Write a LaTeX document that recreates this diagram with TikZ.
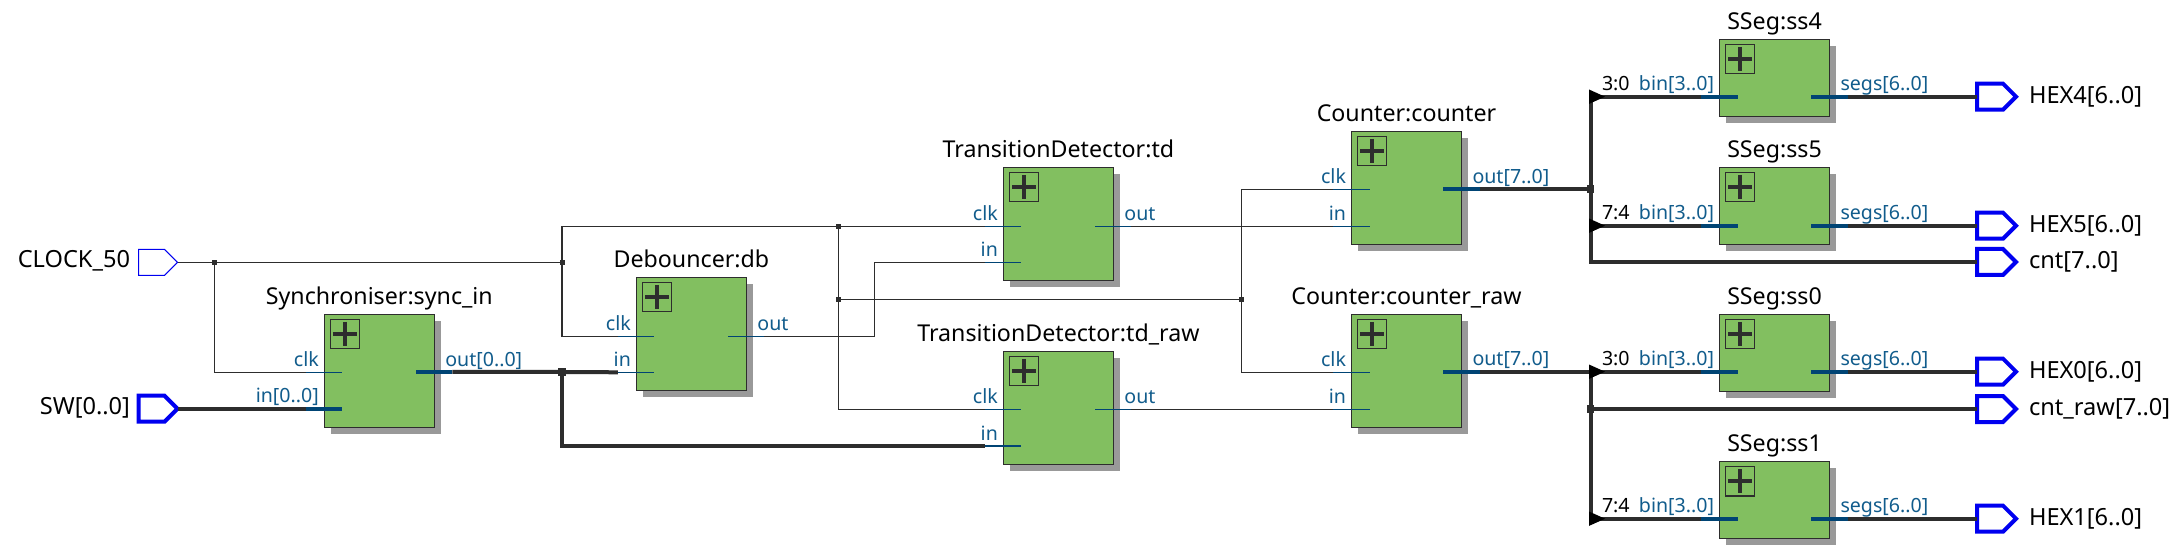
\documentclass[tikz,border=0pt]{standalone}
\usepackage{fontspec}
\setmainfont{Noto Sans}
\usetikzlibrary{shapes.symbols}
\definecolor{wirecol}{HTML}{2D2D2D}
\definecolor{stubcol}{HTML}{004474}
\definecolor{labelcol}{HTML}{115C8C}
\definecolor{greenbody}{HTML}{82BF60}
\definecolor{shadowcol}{HTML}{999999}
\definecolor{pincol}{HTML}{0000F0}
\tikzset{
  x=0.5pt,y=-0.5pt,
  wire/.style={draw=wirecol,line width=0.75pt},
  bus/.style={draw=wirecol,line width=2pt},
  thinstub/.style={draw=stubcol,line width=0.75pt},
  busstub/.style={draw=stubcol,line width=2pt},
  blockbody/.style={rectangle,draw=wirecol,fill=greenbody,line width=0.7pt,minimum width=55pt,inner sep=0pt,outer sep=0pt},
  plusbox/.style={rectangle,draw=wirecol,line width=0.6pt,minimum width=14.6pt,minimum height=14.6pt,inner sep=0pt,outer sep=0pt},
  plusmark/.style={draw=wirecol,line width=2pt},
  titletext/.style={anchor=base,inner sep=0pt,outer sep=0pt,text=black,font=\fontsize{11.6pt}{13pt}\selectfont},
  pintext/.style={inner sep=0pt,outer sep=0pt,text=black,font=\fontsize{11.8pt}{13pt}\selectfont},
  portlabel/.style={inner sep=0pt,outer sep=0pt,text=labelcol,font=\fontsize{9.8pt}{11pt}\selectfont},
  slicelabel/.style={inner sep=0pt,outer sep=0pt,text=black,font=\fontsize{9.8pt}{11pt}\selectfont,anchor=base west},
  jthin/.style={rectangle,fill=wirecol,minimum size=2.6pt,inner sep=0pt,outer sep=0pt},
  jbus/.style={rectangle,fill=wirecol,minimum size=3.8pt,inner sep=0pt,outer sep=0pt},
  pinbase/.style={signal,signal to=east,signal from=nowhere,signal pointer angle=90,minimum width=19.5pt,minimum height=13pt,inner sep=0pt,outer sep=0pt,anchor=west,draw=pincol},
  pinthin/.style={pinbase,line width=0.5pt},
  pinbus/.style={pinbase,line width=2pt},
}
\newcommand\modbox[5]{%
  \fill[shadowcol] (#2+6.5,#3+6.5) rectangle ++(110,#4);
  \node[blockbody,minimum height=#4*0.5pt,anchor=north west] (#1) at (#2,#3) {};
  \node[plusbox,anchor=north west] (#1-plus) at (#2+6,#3+5) {};
  \draw[plusmark] (#1-plus.center) ++(-12,0) -- ++(24,0);
  \draw[plusmark] (#1-plus.center) ++(0,-12) -- ++(0,24);
  \node[titletext] (#1-title) at (#2+55,#3-10) {#5};
}
\newcommand\lport[5]{%
  \coordinate (#1) at (#2-18.5,#3);
  \coordinate (#1-end) at (#2+18,#3);
  \draw[#5] (#1) -- (#1-end);
  \node[portlabel,anchor=base east] (#1-lab) at (#2-5.5,#3-5.8) {#4};
}
\newcommand\rport[5]{%
  \coordinate (#1) at (#2+18,#3);
  \coordinate (#1-end) at (#2-18.5,#3);
  \draw[#5] (#1) -- (#1-end);
  \node[portlabel,anchor=base west] (#1-lab) at (#2+11,#3-5.8) {#4};
}
\newcommand\sseg[4]{% name, top, line y, title
  \modbox{#1}{1719.5}{#2}{77}{#4}
  \lport{#1-bin}{1719.5}{#3}{bin[3..0]}{busstub}
  \rport{#1-segs}{1829.5}{#3}{segs[6..0]}{busstub}
}
\newcommand\tapmark[1]{\fill[black] (#1) ++(-1.5,-7.2) -- ++(16,7.2) -- ++(-16,7.2) -- cycle;}
\begin{document}
\begin{tikzpicture}
\useasboundingbox[fill=white] (0,0) rectangle (2182,555);
% modules
\modbox{sync}{324.3}{314.3}{113}{Synchroniser:sync\_in}
\lport{sync-clk}{324.3}{372.3}{clk}{thinstub}
\lport{sync-in}{324.3}{408.7}{in[0..0]}{busstub}
\rport{sync-out}{434.3}{371.8}{out[0..0]}{busstub}
\modbox{db}{636.4}{277.3}{113}{Debouncer:db}
\lport{db-clk}{636.4}{336.3}{clk}{thinstub}
\lport{db-in}{636.4}{372.3}{in}{thinstub}
\rport{db-out}{746.4}{336.3}{out}{thinstub}
\modbox{td}{1003.4}{167.3}{113}{TransitionDetector:td}
\lport{td-clk}{1003.4}{226.3}{clk}{thinstub}
\lport{td-in}{1003.4}{262.3}{in}{thinstub}
\rport{td-out}{1113.4}{226.3}{out}{thinstub}
\modbox{tdr}{1003.4}{351.3}{113}{TransitionDetector:td\_raw}
\lport{tdr-clk}{1003.4}{409.3}{clk}{thinstub}
\lport{tdr-in}{1003.4}{446}{in}{thinstub}
\rport{tdr-out}{1113.4}{409.3}{out}{thinstub}
\modbox{ctr}{1351.5}{131.3}{113}{Counter:counter}
\lport{ctr-clk}{1351.5}{189.3}{clk}{thinstub}
\lport{ctr-in}{1351.5}{226.3}{in}{thinstub}
\rport{ctr-out}{1461.5}{189}{out[7..0]}{busstub}
\modbox{ctrr}{1351.5}{314.3}{113}{Counter:counter\_raw}
\lport{ctrr-clk}{1351.5}{372.3}{clk}{thinstub}
\lport{ctrr-in}{1351.5}{409.3}{in}{thinstub}
\rport{ctrr-out}{1461.5}{371.7}{out[7..0]}{busstub}
\sseg{ss4}{39.3}{96.7}{SSeg:ss4}
\sseg{ss5}{167.3}{225.7}{SSeg:ss5}
\sseg{ss0}{314.3}{371.7}{SSeg:ss0}
\sseg{ss1}{461.7}{518.7}{SSeg:ss1}
% pins
\node[pinthin] (pclk) at (138.5,262.4) {};
\node[pinbus] (psw) at (138.5,408.7) {};
\node[pintext,anchor=base east] (pclk-t) at (130,268) {CLOCK\_50};
\node[pintext,anchor=base east] (psw-t) at (130,415) {SW[0..0]};
\foreach \n/\y/\t in {hex4/96.7/HEX4[6..0],hex5/225.7/HEX5[6..0],cnt/262/{cnt[7..0]},hex0/371.7/HEX0[6..0],cntr/409/{cnt\_raw[7..0]},hex1/518.7/HEX1[6..0]}{
  \node[pinbus] (p\n) at (1977,\y) {};
  \node[pintext,anchor=base west] (p\n-t) at (2029,\y+6.5) {\t};
}
% junctions
\node[jthin] (ja) at (214.4,262.4) {};
\node[jthin] (jb) at (562.2,262.4) {};
\node[jthin] (jc) at (838.5,226.3) {};
\node[jthin] (jd) at (838.5,299.3) {};
\node[jthin] (je) at (1241.4,299.3) {};
\node[jbus] (jf) at (561.8,372) {};
\node[jbus] (jg) at (1590.5,189) {};
\node[jbus] (jh) at (1590.5,409) {};
\coordinate (t4) at (1590.5,96.7);
\coordinate (t5) at (1590.5,225.7);
\coordinate (t0) at (1590.5,371.7);
\coordinate (t1) at (1590.5,518.7);
\coordinate (dbup) at (874.5,262.3);
% thin wires
\draw[wire] (pclk.east) -- (ja.center) -- (jb.center);
\draw[wire] (ja.center) |- (sync-clk);
\draw[wire] (jb.center) |- (td-clk);
\draw[wire] (jb.center) |- (db-clk);
\draw[wire] (jc.center) |- (tdr-clk);
\draw[wire] (jd.center) -- (je.center);
\draw[wire] (je.center) |- (ctr-clk);
\draw[wire] (je.center) |- (ctrr-clk);
\draw[wire] (db-out) -| (dbup) -- (td-in);
\draw[wire] (td-out) -- (ctr-in);
\draw[wire] (tdr-out) -- (ctrr-in);
% buses
\draw[bus] (psw.east) -- (sync-in);
\draw[bus] (sync-out) -- (jf.center) -- (db-in);
\draw[bus] (jf.center) |- (tdr-in);
\draw[bus] (ctr-out) -- (jg.center);
\draw[bus] (t4) -- (ss4-bin);
\draw[bus] (t5) -- (ss5-bin);
\draw[bus] (t4) |- (pcnt.west);
\draw[bus] (ctrr-out) -- (ss0-bin);
\draw[bus] (t0) |- (ss1-bin);
\draw[bus] (jh.center) -- (pcntr.west);
\draw[bus] (ss4-segs) -- (phex4.west);
\draw[bus] (ss5-segs) -- (phex5.west);
\draw[bus] (ss0-segs) -- (phex0.west);
\draw[bus] (ss1-segs) -- (phex1.west);
\tapmark{t4}\tapmark{t5}\tapmark{t0}\tapmark{t1}
\node[slicelabel] (s4) at (1602,90.8) {3:0};
\node[slicelabel] (s5) at (1602,219.8) {7:4};
\node[slicelabel] (s0) at (1602,365.8) {3:0};
\node[slicelabel] (s1) at (1602,512.8) {7:4};
\end{tikzpicture}
\end{document}
